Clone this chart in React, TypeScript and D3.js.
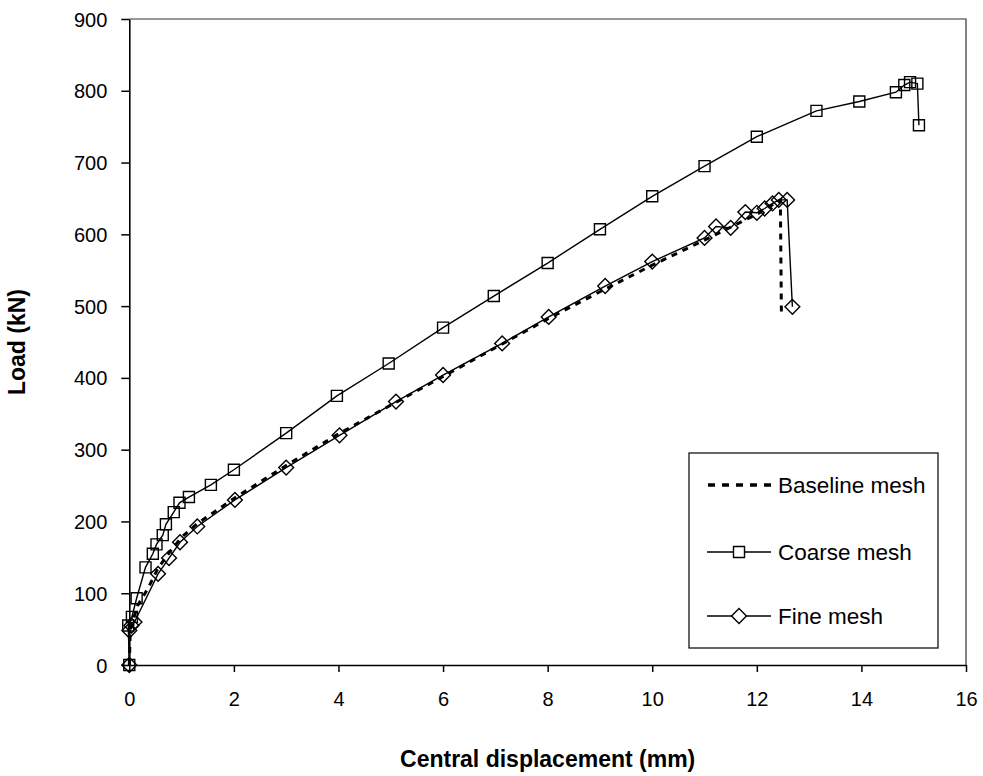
import React, { useEffect, useRef } from 'react';
import * as d3 from 'd3';

// values
const coarseX = [0, -0.02, 0.05, 0.14, 0.31, 0.45, 0.52, 0.64, 0.7, 0.85, 0.96, 1.14, 1.56, 2.0, 3.0, 3.97, 4.96, 6.0, 6.97, 8.0, 9.0, 10.0, 11.0, 12.0, 13.14, 13.96, 14.66, 14.82, 14.93, 15.07, 15.1];
const coarseY = [0, 55, 67, 93, 136, 155, 168, 181, 196, 213, 226, 234, 251, 272, 323, 375, 420, 470, 514, 560, 607, 653, 695, 736, 772, 785, 798, 808, 812, 810, 752];

const fineX = [0, 0.0, 0.04, 0.1, 0.55, 0.76, 0.97, 1.3, 2.02, 3.0, 4.02, 5.1, 6.0, 7.13, 8.02, 9.1, 10.0, 11.0, 11.22, 11.5, 11.78, 12.0, 12.15, 12.3, 12.42, 12.58, 12.68];
const fineY = [0, 48, 55, 60, 127, 149, 171, 193, 230, 275, 320, 367, 404, 448, 485, 528, 562, 595, 611, 609, 631, 630, 636, 643, 648, 648, 499];

const baseX = [0, 0.02, 0.16, 0.36, 0.55, 0.8, 1.0, 1.3, 2.0, 3.0, 4.0, 5.0, 6.0, 7.0, 8.0, 9.0, 10.0, 11.0, 12.0, 12.45, 12.47];
const baseY = [0, 50, 83, 107, 135, 160, 178, 197, 232, 278, 322, 362, 402, 442, 482, 520, 557, 592, 628, 648, 490];

const xTicks = [0, 2, 4, 6, 8, 10, 12, 14, 16];
const yTicks = [0, 100, 200, 300, 400, 500, 600, 700, 800, 900];

const seriesNames = ['Baseline mesh', 'Coarse mesh', 'Fine mesh'];

const FONT = '"Liberation Sans", Arial, sans-serif';

const App = () => {
  const ref = useRef<SVGSVGElement | null>(null);

  useEffect(() => {
    if (!ref.current) return;
    const svg = d3.select(ref.current);
    svg.selectAll('*').remove();

    const left = 129.3, right = 966, top = 19, bottom = 665;
    const x = d3.scaleLinear().domain([0, 16]).range([left, right]);
    const y = d3.scaleLinear().domain([0, 900]).range([bottom, top]);

    svg.append('rect').attr('width', 983).attr('height', 776).attr('fill', '#fff');

    // plot frame (top / right) in grey
    svg.append('path')
      .attr('d', `M${left},${top}H${right}V${bottom}`)
      .attr('fill', 'none').attr('stroke', '#333').attr('stroke-width', 1.2);

    // axes
    const xAxis = svg.append('g')
      .attr('transform', `translate(0,${bottom})`)
      .call(d3.axisBottom(x).tickValues(xTicks).tickSize(7).tickPadding(20).tickSizeOuter(0));
    const yAxis = svg.append('g')
      .attr('transform', `translate(${left},0)`)
      .call(d3.axisLeft(y).tickValues(yTicks).tickSize(8).tickPadding(14).tickSizeOuter(0));
    [xAxis, yAxis].forEach(g => {
      g.select('.domain').attr('stroke', '#000').attr('stroke-width', 1.6);
      g.selectAll('.tick line').attr('stroke', '#000').attr('stroke-width', 1.5);
      g.selectAll('.tick text').attr('fill', '#000').style('font-family', FONT).style('font-size', '20px');
    });
    yAxis.selectAll('.tick text').attr('dy', '0.35em');

    const line = d3.line<[number, number]>().x(d => x(d[0])).y(d => y(d[1]));
    const zip = (xs: number[], ys: number[]) => xs.map((v, i) => [v, ys[i]] as [number, number]);

    const coarse = zip(coarseX, coarseY);
    const fine = zip(fineX, fineY);
    const base = zip(baseX, baseY);

    svg.append('path').attr('d', line(coarse)).attr('fill', 'none').attr('stroke', '#000').attr('stroke-width', 1.4);
    svg.append('path').attr('d', line(fine)).attr('fill', 'none').attr('stroke', '#000').attr('stroke-width', 1.4);
    svg.append('path').attr('d', line(base)).attr('fill', 'none').attr('stroke', '#000')
      .attr('stroke-width', 3).attr('stroke-dasharray', '6,6');

    const square = d3.symbol().type(d3.symbolSquare).size(121);
    const diamond = d3.symbol().type(d3.symbolSquare).size(110);

    svg.append('g').selectAll('path').data(coarse).enter().append('path')
      .attr('d', square() as string)
      .attr('transform', d => `translate(${x(d[0])},${y(d[1])})`)
      .attr('fill', 'none').attr('stroke', '#000').attr('stroke-width', 1.4);
    svg.append('g').selectAll('path').data(fine).enter().append('path')
      .attr('d', diamond() as string)
      .attr('transform', d => `translate(${x(d[0])},${y(d[1])}) rotate(45)`)
      .attr('fill', 'none').attr('stroke', '#000').attr('stroke-width', 1.4);

    // axis titles
    svg.append('text')
      .attr('x', (left + right) / 2).attr('y', 767)
      .attr('text-anchor', 'middle')
      .style('font-family', FONT).style('font-size', '23px').style('font-weight', 'bold')
      .text('Central displacement (mm)');
    svg.append('text')
      .attr('transform', `translate(25,${(top + bottom) / 2}) rotate(-90)`)
      .attr('text-anchor', 'middle')
      .style('font-family', FONT).style('font-size', '23px').style('font-weight', 'bold')
      .text('Load (kN)');

    // legend
    const lg = svg.append('g');
    lg.append('rect').attr('x', 689).attr('y', 453).attr('width', 249).attr('height', 195)
      .attr('fill', '#fff').attr('stroke', '#000').attr('stroke-width', 1.2);
    const rows = [485, 552, 616];
    seriesNames.forEach((name, i) => {
      const ry = rows[i];
      const seg = lg.append('line').attr('x1', 707).attr('x2', 771).attr('y1', ry).attr('y2', ry).attr('stroke', '#000');
      if (i === 0) seg.attr('stroke-width', 3.5).attr('stroke-dasharray', '7,7').attr('x1', 708);
      else seg.attr('stroke-width', 1.4);
      if (i === 1) {
        lg.append('path').attr('d', square() as string).attr('transform', `translate(739,${ry})`)
          .attr('fill', '#fff').attr('stroke', '#000').attr('stroke-width', 1.4);
      }
      if (i === 2) {
        lg.append('path').attr('d', diamond() as string).attr('transform', `translate(739,${ry}) rotate(45)`)
          .attr('fill', '#fff').attr('stroke', '#000').attr('stroke-width', 1.4);
      }
      lg.append('text').attr('x', 778).attr('y', ry).attr('dy', '0.35em')
        .style('font-family', FONT).style('font-size', '22.5px').text(name);
    });
  }, []);

  return (
    <svg ref={ref} width={983} height={776} style={{ position: 'absolute', left: 0, top: 0 }} />
  );
};

export default App;
